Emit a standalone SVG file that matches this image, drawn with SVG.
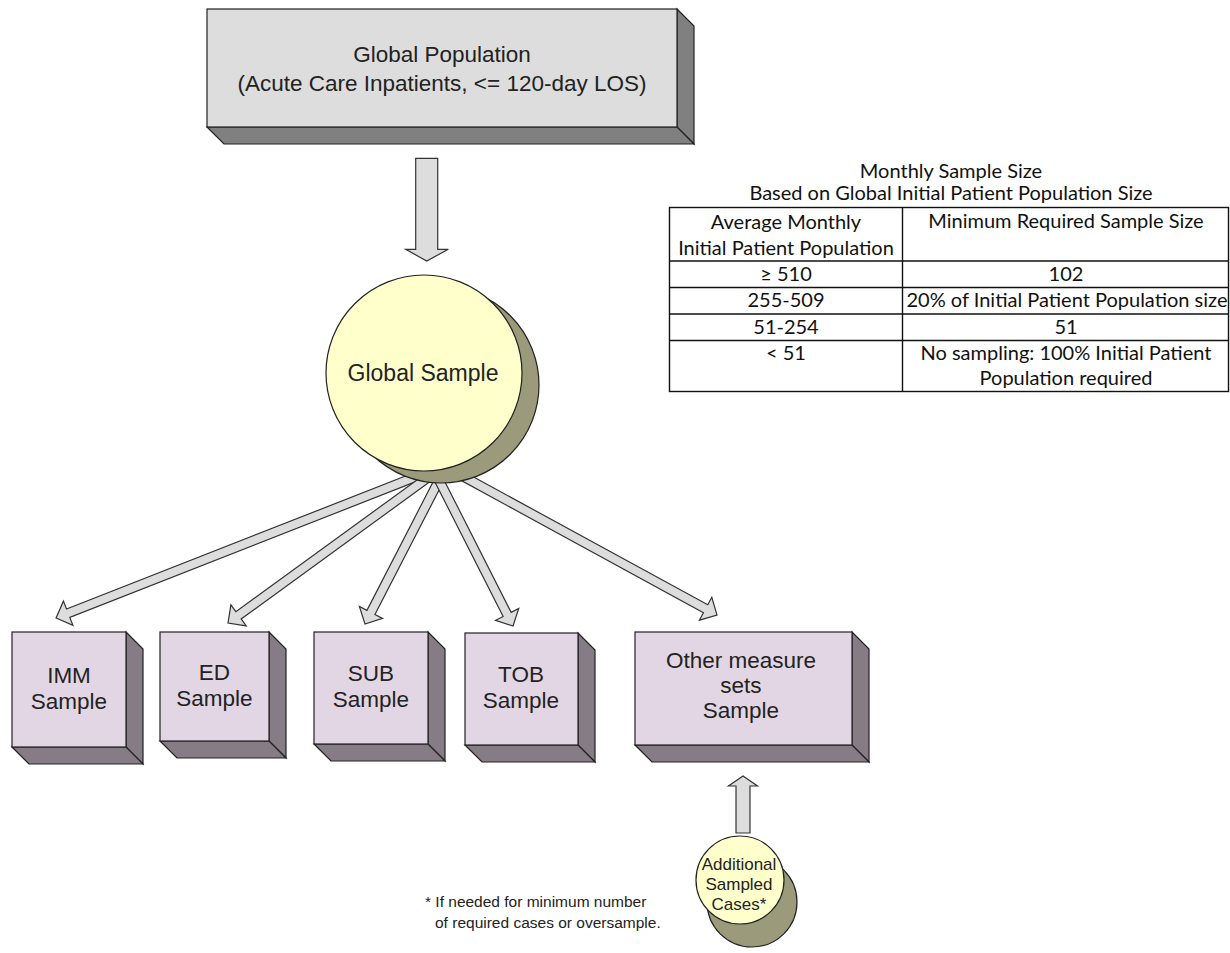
<svg xmlns="http://www.w3.org/2000/svg" width="1230" height="953" viewBox="0 0 1230 953">
<style>
.ol{stroke:#222;stroke-width:1.2;stroke-linejoin:miter}
.gf{fill:#dddddd}.gs{fill:#808080}
.pf{fill:#e3d6e4}.ps{fill:#857c86}
.cf{fill:#ffffcc}.cs{fill:#9b9a7b}
.arr{fill:#dddddd;stroke:#333;stroke-width:1.2;stroke-linejoin:miter}
.t{font-family:"Liberation Sans",Arial,sans-serif;fill:#222;text-anchor:middle}
.tb{font-family:Lato,"Liberation Sans",sans-serif;fill:#111;text-anchor:middle;font-size:20px}
.fn{font-family:"Liberation Sans",Arial,sans-serif;fill:#222;font-size:15.5px}
.grid{stroke:#111;stroke-width:1.4;fill:none}
</style>
<rect width="1230" height="953" fill="#ffffff"/>
<g id="connectors">
  <path class="arr" d="M415.7,158.3 L437.7,158.3 L437.7,249.3 L448.3,249.3 L426.7,261 L405.7,249.3 L415.7,249.3 Z"/>
  <path class="arr" transform="translate(432.6,470.2) rotate(158.57)" d="M0,-4.5 L391.5,-4.5 L391.5,-13 L404.5,0 L391.5,13 L391.5,4.5 L0,4.5 Z"/>
  <path class="arr" transform="translate(443.3,466.4) rotate(143.97)" d="M0,-4.5 L253.2,-4.5 L253.2,-13 L266.2,0 L253.2,13 L253.2,4.5 L0,4.5 Z"/>
  <path class="arr" transform="translate(450,458.9) rotate(117.24)" d="M0,-4.5 L172.7,-4.5 L172.7,-13 L185.7,0 L172.7,13 L172.7,4.5 L0,4.5 Z"/>
  <path class="arr" transform="translate(428.2,458.8) rotate(63.1)" d="M0,-4.5 L174.5,-4.5 L174.5,-13 L187.5,0 L174.5,13 L174.5,4.5 L0,4.5 Z"/>
  <path class="arr" transform="translate(446.3,467.2) rotate(28.63)" d="M0,-4.5 L295.4,-4.5 L295.4,-13 L308.4,0 L295.4,13 L295.4,4.5 L0,4.5 Z"/>
  <path class="arr" d="M736,833 L736,786 L728.5,786 L743,776 L757.5,786 L750,786 L750,833 Z"/>
</g>
<g id="global-population">
  <polygon class="gs ol" points="677,9 694,26 694,144 677,127"/>
  <polygon class="gs ol" points="207,127 677,127 694,144 224,144"/>
  <rect class="gf ol" x="207" y="9" width="470" height="118"/>
  <text class="t" font-size="22.5" x="442" y="62">Global Population</text>
  <text class="t" font-size="22.5" x="442" y="91">(Acute Care Inpatients, &lt;= 120-day LOS)</text>
</g>
<g id="global-sample">
  <circle class="cs ol" cx="441" cy="385" r="98"/>
  <circle class="cf ol" cx="424" cy="373" r="98"/>
  <text class="t" font-size="23" x="423" y="381">Global Sample</text>
</g>
<g id="imm-sample">
  <polygon class="ps ol" points="126,632 143,649 143,764 126,747"/>
  <polygon class="ps ol" points="12,747 126,747 143,764 29,764"/>
  <rect class="pf ol" x="12" y="632" width="114" height="115"/>
  <text class="t" font-size="22.5" x="69" y="683">IMM</text>
  <text class="t" font-size="22.5" x="69" y="709">Sample</text>
</g>
<g id="ed-sample">
  <polygon class="ps ol" points="269,632 286,649 286,758 269,741"/>
  <polygon class="ps ol" points="160,741 269,741 286,758 177,758"/>
  <rect class="pf ol" x="160" y="632" width="109" height="109"/>
  <text class="t" font-size="22.5" x="214.5" y="680">ED</text>
  <text class="t" font-size="22.5" x="214.5" y="706">Sample</text>
</g>
<g id="sub-sample">
  <polygon class="ps ol" points="428,632 445,649 445,761 428,744"/>
  <polygon class="ps ol" points="314,744 428,744 445,761 331,761"/>
  <rect class="pf ol" x="314" y="632" width="114" height="112"/>
  <text class="t" font-size="22.5" x="371" y="681">SUB</text>
  <text class="t" font-size="22.5" x="371" y="707">Sample</text>
</g>
<g id="tob-sample">
  <polygon class="ps ol" points="578,633 595,650 595,762 578,745"/>
  <polygon class="ps ol" points="465,745 578,745 595,762 482,762"/>
  <rect class="pf ol" x="465" y="633" width="113" height="112"/>
  <text class="t" font-size="22.5" x="521" y="682">TOB</text>
  <text class="t" font-size="22.5" x="521" y="708">Sample</text>
</g>
<g id="other-sample">
  <polygon class="ps ol" points="852,632 869,649 869,762 852,745"/>
  <polygon class="ps ol" points="635,745 852,745 869,762 652,762"/>
  <rect class="pf ol" x="635" y="632" width="217" height="113"/>
  <text class="t" font-size="22.5" x="741" y="668">Other measure</text>
  <text class="t" font-size="22.5" x="741" y="693">sets</text>
  <text class="t" font-size="22.5" x="741" y="718">Sample</text>
</g>
<g id="additional-cases">
  <circle class="cs ol" cx="752" cy="902" r="45"/>
  <circle class="cf ol" cx="740" cy="880" r="44"/>
  <text class="t" font-size="17" x="739" y="870">Additional</text>
  <text class="t" font-size="17" x="739" y="890">Sampled</text>
  <text class="t" font-size="17" x="739" y="910">Cases*</text>
</g>
<g id="footnote">
  <text class="fn" x="425" y="907">* If needed for minimum number</text>
  <text class="fn" x="435" y="928">of required cases or oversample.</text>
</g>
<g id="sample-size-table">
  <text class="tb" x="951" y="178">Monthly Sample Size</text>
  <text class="tb" x="951" y="200" font-size="19.6">Based on Global Initial Patient Population Size</text>
  <rect class="grid" x="669.5" y="207.5" width="559" height="184"/>
  <line class="grid" x1="902.5" y1="207.5" x2="902.5" y2="391.5"/>
  <line class="grid" x1="669.5" y1="261" x2="1228.5" y2="261"/>
  <line class="grid" x1="669.5" y1="287.5" x2="1228.5" y2="287.5"/>
  <line class="grid" x1="669.5" y1="314" x2="1228.5" y2="314"/>
  <line class="grid" x1="669.5" y1="340.5" x2="1228.5" y2="340.5"/>
  <text class="tb" x="786" y="229">Average Monthly</text>
  <text class="tb" x="786" y="255">Initial Patient Population</text>
  <text class="tb" x="1066" y="228">Minimum Required Sample Size</text>
  <text class="tb" x="786" y="281">≥ 510</text>
  <text class="tb" x="1066" y="281">102</text>
  <text class="tb" x="786" y="307">255-509</text>
  <text class="tb" x="1067" y="307" font-size="19.6">20% of Initial Patient Population size</text>
  <text class="tb" x="786" y="333.5">51-254</text>
  <text class="tb" x="1066" y="333.5">51</text>
  <text class="tb" x="786" y="360">&lt; 51</text>
  <text class="tb" x="1066" y="360">No sampling: 100% Initial Patient</text>
  <text class="tb" x="1066" y="385">Population required</text>
</g>
</svg>
